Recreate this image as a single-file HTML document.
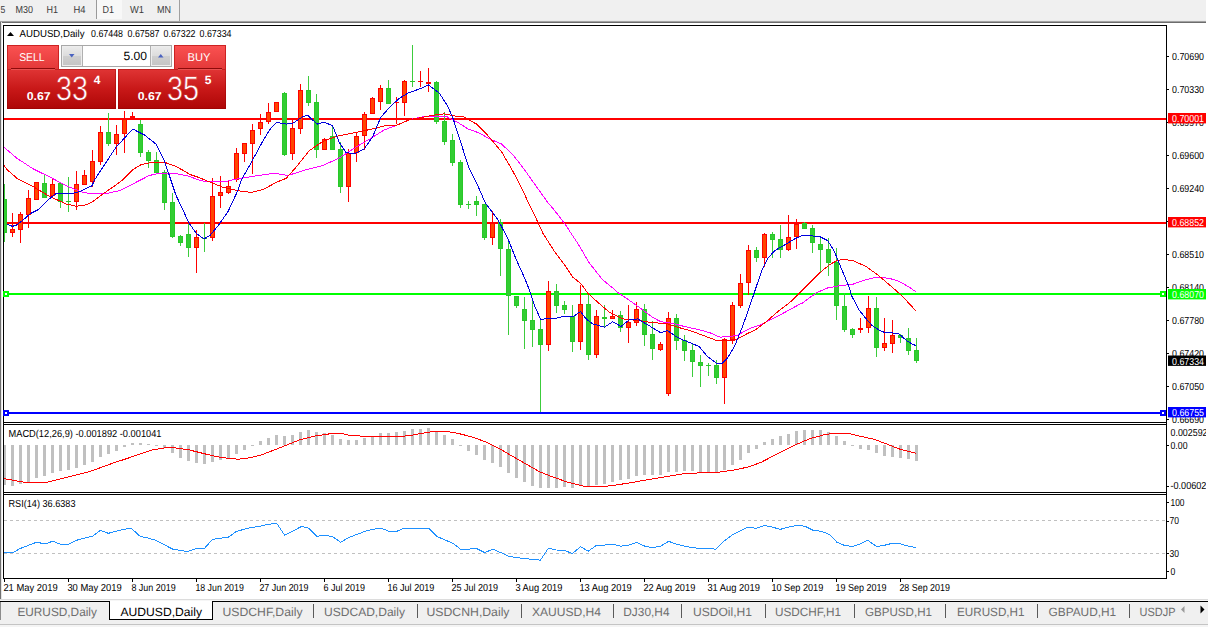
<!DOCTYPE html>
<html><head><meta charset="utf-8"><title>AUDUSD,Daily</title>
<style>html,body{margin:0;padding:0;background:#fff;}body{width:1208px;height:627px;overflow:hidden;font-family:"Liberation Sans",sans-serif;}svg{display:block;}</style></head>
<body>
<svg width="1208" height="627" viewBox="0 0 1208 627" text-rendering="geometricPrecision" font-family="'Liberation Sans', sans-serif">
<defs>
<linearGradient id="gp" gradientUnits="userSpaceOnUse" x1="0" y1="69" x2="0" y2="109"><stop offset="0" stop-color="#e03535"/><stop offset="0.5" stop-color="#c81818"/><stop offset="1" stop-color="#ad0606"/></linearGradient>
<linearGradient id="gb" x1="0" y1="0" x2="0" y2="1"><stop offset="0" stop-color="#fb5252"/><stop offset="1" stop-color="#e23838"/></linearGradient>
<linearGradient id="gs" x1="0" y1="0" x2="0" y2="1"><stop offset="0" stop-color="#ececec"/><stop offset="0.5" stop-color="#dcdcdc"/><stop offset="0.5" stop-color="#cfcfcf"/><stop offset="1" stop-color="#c4c4c4"/></linearGradient>
<linearGradient id="gt" x1="0" y1="0" x2="0" y2="1"><stop offset="0" stop-color="#d8d8d8"/><stop offset="0.4" stop-color="#8a8a8a"/><stop offset="1" stop-color="#6a6a6a"/></linearGradient>
<clipPath id="cm"><rect x="4" y="26" width="1162" height="396"/></clipPath>
<clipPath id="cd"><rect x="4" y="425" width="1162" height="67"/></clipPath>
<clipPath id="cr"><rect x="4" y="495" width="1162" height="83"/></clipPath>
<clipPath id="ca"><rect x="1167" y="20" width="39" height="580"/></clipPath>
</defs>
<g shape-rendering="crispEdges">
<rect x="0" y="0" width="1208" height="627" fill="#ffffff"/>
<rect x="0" y="0" width="1206" height="21" fill="#f0f0f0"/>
<rect x="0" y="20" width="1206" height="1" fill="#ebebeb"/>
<rect x="0" y="21" width="1206" height="1" fill="#a2a2a2"/>
<rect x="0" y="22" width="1206" height="1" fill="#6c6c6c"/>
<rect x="0" y="22" width="1" height="577" fill="#707070"/>
<rect x="1" y="22" width="1" height="577" fill="#e4e4e4"/>
<rect x="97" y="0" width="25" height="19" fill="#f8f8f8"/>
<rect x="96" y="0" width="1" height="19" fill="#9a9a9a"/>
<rect x="179" y="0" width="1" height="21" fill="#a0a0a0"/>
<rect x="0" y="599" width="1208" height="28" fill="#f0f0f0"/>
<rect x="0" y="599" width="1208" height="1" fill="#dcdcdc"/>
<rect x="0" y="600" width="1208" height="1" fill="#f6f6f6"/>
<rect x="0" y="601" width="1208" height="1" fill="#000000"/>
<rect x="110" y="601" width="102" height="19" fill="#ffffff"/>
<rect x="109" y="601" width="1" height="19" fill="#000000"/>
<rect x="212" y="601" width="1" height="19" fill="#000000"/>
<rect x="109" y="619" width="104" height="1" fill="#000000"/>
<rect x="0" y="602" width="1" height="18" fill="#8c8c8c"/>
<rect x="0" y="624" width="1208" height="1" fill="#c4c4c4"/>
<rect x="0" y="625" width="1208" height="2" fill="#f4f4f4"/>
<rect x="3" y="25" width="1164" height="1" fill="#000"/>
<rect x="3" y="25" width="1" height="554" fill="#000"/>
<rect x="1166" y="25" width="1" height="554" fill="#000"/>
<rect x="3" y="422" width="1164" height="1" fill="#000"/>
<rect x="3" y="424" width="1164" height="1" fill="#000"/>
<rect x="3" y="492" width="1164" height="1" fill="#000"/>
<rect x="3" y="494" width="1164" height="1" fill="#000"/>
<rect x="3" y="578" width="1164" height="1" fill="#000"/>
<rect x="4" y="423" width="1162" height="1" fill="#fff"/>
<rect x="4" y="493" width="1162" height="1" fill="#fff"/>
<rect x="4" y="579" width="1" height="3" fill="#000"/>
<rect x="68" y="579" width="1" height="3" fill="#000"/>
<rect x="132" y="579" width="1" height="3" fill="#000"/>
<rect x="196" y="579" width="1" height="3" fill="#000"/>
<rect x="260" y="579" width="1" height="3" fill="#000"/>
<rect x="324" y="579" width="1" height="3" fill="#000"/>
<rect x="388" y="579" width="1" height="3" fill="#000"/>
<rect x="452" y="579" width="1" height="3" fill="#000"/>
<rect x="516" y="579" width="1" height="3" fill="#000"/>
<rect x="580" y="579" width="1" height="3" fill="#000"/>
<rect x="644" y="579" width="1" height="3" fill="#000"/>
<rect x="708" y="579" width="1" height="3" fill="#000"/>
<rect x="772" y="579" width="1" height="3" fill="#000"/>
<rect x="836" y="579" width="1" height="3" fill="#000"/>
<rect x="900" y="579" width="1" height="3" fill="#000"/>
<rect x="1167" y="56" width="2" height="1" fill="#000"/>
<rect x="1167" y="89" width="2" height="1" fill="#000"/>
<rect x="1167" y="122" width="2" height="1" fill="#000"/>
<rect x="1167" y="155" width="2" height="1" fill="#000"/>
<rect x="1167" y="188" width="2" height="1" fill="#000"/>
<rect x="1167" y="221" width="2" height="1" fill="#000"/>
<rect x="1167" y="254" width="2" height="1" fill="#000"/>
<rect x="1167" y="287" width="2" height="1" fill="#000"/>
<rect x="1167" y="320" width="2" height="1" fill="#000"/>
<rect x="1167" y="353" width="2" height="1" fill="#000"/>
<rect x="1167" y="386" width="2" height="1" fill="#000"/>
<rect x="1167" y="419" width="2" height="1" fill="#000"/>
<rect x="1167" y="445" width="2" height="1" fill="#000"/>
<rect x="1167" y="486" width="2" height="1" fill="#000"/>
<rect x="1167" y="502" width="2" height="1" fill="#000"/>
<rect x="1167" y="521" width="2" height="1" fill="#000"/>
<rect x="1167" y="553" width="2" height="1" fill="#000"/>
<rect x="1167" y="571" width="2" height="1" fill="#000"/>
</g>
<g shape-rendering="crispEdges" clip-path="url(#cm)">
<rect x="4" y="118" width="1162" height="2" fill="#ff0000"/>
<rect x="4" y="222" width="1162" height="2" fill="#ff0000"/>
<rect x="4" y="293" width="1162" height="2" fill="#00ff00"/>
<rect x="4" y="412" width="1162" height="2" fill="#0000ff"/>
<rect x="4" y="184" width="1" height="58" fill="#3ccc3c"/>
<rect x="2" y="199" width="5" height="34" fill="#28c828"/>
<rect x="3" y="200" width="3" height="32" fill="#32cd32"/>
<rect x="12" y="213" width="1" height="24" fill="#ff0000"/>
<rect x="10" y="229" width="5" height="4" fill="#ff0000"/>
<rect x="11" y="230" width="3" height="2" fill="#ff4500"/>
<rect x="20" y="212" width="1" height="31" fill="#ff0000"/>
<rect x="18" y="214" width="5" height="16" fill="#ff0000"/>
<rect x="19" y="215" width="3" height="14" fill="#ff4500"/>
<rect x="28" y="190" width="1" height="38" fill="#ff0000"/>
<rect x="26" y="198" width="5" height="17" fill="#ff0000"/>
<rect x="27" y="199" width="3" height="15" fill="#ff4500"/>
<rect x="36" y="182" width="1" height="18" fill="#ff0000"/>
<rect x="34" y="182" width="5" height="18" fill="#ff0000"/>
<rect x="35" y="183" width="3" height="16" fill="#ff4500"/>
<rect x="44" y="175" width="1" height="23" fill="#3ccc3c"/>
<rect x="42" y="183" width="5" height="15" fill="#28c828"/>
<rect x="43" y="184" width="3" height="13" fill="#32cd32"/>
<rect x="52" y="178" width="1" height="20" fill="#ff0000"/>
<rect x="50" y="184" width="5" height="12" fill="#ff0000"/>
<rect x="51" y="185" width="3" height="10" fill="#ff4500"/>
<rect x="60" y="182" width="1" height="26" fill="#3ccc3c"/>
<rect x="58" y="183" width="5" height="19" fill="#28c828"/>
<rect x="59" y="184" width="3" height="17" fill="#32cd32"/>
<rect x="68" y="177" width="1" height="35" fill="#3ccc3c"/>
<rect x="66" y="201" width="5" height="1" fill="#28c828"/>
<rect x="76" y="171" width="1" height="39" fill="#ff0000"/>
<rect x="74" y="184" width="5" height="18" fill="#ff0000"/>
<rect x="75" y="185" width="3" height="16" fill="#ff4500"/>
<rect x="84" y="170" width="1" height="15" fill="#ff0000"/>
<rect x="82" y="175" width="5" height="10" fill="#ff0000"/>
<rect x="83" y="176" width="3" height="8" fill="#ff4500"/>
<rect x="92" y="150" width="1" height="37" fill="#ff0000"/>
<rect x="90" y="161" width="5" height="21" fill="#ff0000"/>
<rect x="91" y="162" width="3" height="19" fill="#ff4500"/>
<rect x="100" y="126" width="1" height="39" fill="#ff0000"/>
<rect x="98" y="132" width="5" height="30" fill="#ff0000"/>
<rect x="99" y="133" width="3" height="28" fill="#ff4500"/>
<rect x="108" y="113" width="1" height="33" fill="#3ccc3c"/>
<rect x="106" y="132" width="5" height="12" fill="#28c828"/>
<rect x="107" y="133" width="3" height="10" fill="#32cd32"/>
<rect x="116" y="125" width="1" height="30" fill="#ff0000"/>
<rect x="114" y="134" width="5" height="10" fill="#ff0000"/>
<rect x="115" y="135" width="3" height="8" fill="#ff4500"/>
<rect x="124" y="111" width="1" height="42" fill="#ff0000"/>
<rect x="122" y="119" width="5" height="15" fill="#ff0000"/>
<rect x="123" y="120" width="3" height="13" fill="#ff4500"/>
<rect x="132" y="112" width="1" height="6" fill="#ff0000"/>
<rect x="130" y="116" width="5" height="2" fill="#ff0000"/>
<rect x="140" y="120" width="1" height="37" fill="#3ccc3c"/>
<rect x="138" y="124" width="5" height="29" fill="#28c828"/>
<rect x="139" y="125" width="3" height="27" fill="#32cd32"/>
<rect x="148" y="150" width="1" height="18" fill="#3ccc3c"/>
<rect x="146" y="152" width="5" height="9" fill="#28c828"/>
<rect x="147" y="153" width="3" height="7" fill="#32cd32"/>
<rect x="156" y="152" width="1" height="21" fill="#3ccc3c"/>
<rect x="154" y="160" width="5" height="13" fill="#28c828"/>
<rect x="155" y="161" width="3" height="11" fill="#32cd32"/>
<rect x="164" y="170" width="1" height="40" fill="#3ccc3c"/>
<rect x="162" y="172" width="5" height="31" fill="#28c828"/>
<rect x="163" y="173" width="3" height="29" fill="#32cd32"/>
<rect x="172" y="193" width="1" height="45" fill="#3ccc3c"/>
<rect x="170" y="202" width="5" height="35" fill="#28c828"/>
<rect x="171" y="203" width="3" height="33" fill="#32cd32"/>
<rect x="180" y="235" width="1" height="11" fill="#3ccc3c"/>
<rect x="178" y="236" width="5" height="7" fill="#28c828"/>
<rect x="179" y="237" width="3" height="5" fill="#32cd32"/>
<rect x="188" y="224" width="1" height="33" fill="#3ccc3c"/>
<rect x="186" y="234" width="5" height="14" fill="#28c828"/>
<rect x="187" y="235" width="3" height="12" fill="#32cd32"/>
<rect x="196" y="230" width="1" height="43" fill="#ff0000"/>
<rect x="194" y="237" width="5" height="11" fill="#ff0000"/>
<rect x="195" y="238" width="3" height="9" fill="#ff4500"/>
<rect x="204" y="223" width="1" height="29" fill="#3ccc3c"/>
<rect x="202" y="238" width="5" height="1" fill="#28c828"/>
<rect x="212" y="178" width="1" height="63" fill="#ff0000"/>
<rect x="210" y="196" width="5" height="42" fill="#ff0000"/>
<rect x="211" y="197" width="3" height="40" fill="#ff4500"/>
<rect x="220" y="176" width="1" height="32" fill="#ff0000"/>
<rect x="218" y="192" width="5" height="4" fill="#ff0000"/>
<rect x="219" y="193" width="3" height="2" fill="#ff4500"/>
<rect x="228" y="180" width="1" height="14" fill="#ff0000"/>
<rect x="226" y="186" width="5" height="7" fill="#ff0000"/>
<rect x="227" y="187" width="3" height="5" fill="#ff4500"/>
<rect x="236" y="148" width="1" height="34" fill="#ff0000"/>
<rect x="234" y="153" width="5" height="27" fill="#ff0000"/>
<rect x="235" y="154" width="3" height="25" fill="#ff4500"/>
<rect x="244" y="143" width="1" height="19" fill="#ff0000"/>
<rect x="242" y="143" width="5" height="11" fill="#ff0000"/>
<rect x="243" y="144" width="3" height="9" fill="#ff4500"/>
<rect x="252" y="124" width="1" height="50" fill="#ff0000"/>
<rect x="250" y="130" width="5" height="14" fill="#ff0000"/>
<rect x="251" y="131" width="3" height="12" fill="#ff4500"/>
<rect x="260" y="114" width="1" height="21" fill="#ff0000"/>
<rect x="258" y="122" width="5" height="7" fill="#ff0000"/>
<rect x="259" y="123" width="3" height="5" fill="#ff4500"/>
<rect x="268" y="103" width="1" height="21" fill="#ff0000"/>
<rect x="266" y="112" width="5" height="10" fill="#ff0000"/>
<rect x="267" y="113" width="3" height="8" fill="#ff4500"/>
<rect x="276" y="102" width="1" height="10" fill="#ff0000"/>
<rect x="274" y="102" width="5" height="10" fill="#ff0000"/>
<rect x="275" y="103" width="3" height="8" fill="#ff4500"/>
<rect x="284" y="92" width="1" height="64" fill="#3ccc3c"/>
<rect x="282" y="93" width="5" height="62" fill="#28c828"/>
<rect x="283" y="94" width="3" height="60" fill="#32cd32"/>
<rect x="292" y="120" width="1" height="40" fill="#ff0000"/>
<rect x="290" y="128" width="5" height="26" fill="#ff0000"/>
<rect x="291" y="129" width="3" height="24" fill="#ff4500"/>
<rect x="300" y="84" width="1" height="50" fill="#ff0000"/>
<rect x="298" y="90" width="5" height="39" fill="#ff0000"/>
<rect x="299" y="91" width="3" height="37" fill="#ff4500"/>
<rect x="308" y="76" width="1" height="30" fill="#3ccc3c"/>
<rect x="306" y="90" width="5" height="13" fill="#28c828"/>
<rect x="307" y="91" width="3" height="11" fill="#32cd32"/>
<rect x="316" y="94" width="1" height="64" fill="#3ccc3c"/>
<rect x="314" y="102" width="5" height="48" fill="#28c828"/>
<rect x="315" y="103" width="3" height="46" fill="#32cd32"/>
<rect x="324" y="138" width="1" height="12" fill="#ff0000"/>
<rect x="322" y="139" width="5" height="11" fill="#ff0000"/>
<rect x="323" y="140" width="3" height="9" fill="#ff4500"/>
<rect x="332" y="125" width="1" height="25" fill="#3ccc3c"/>
<rect x="330" y="136" width="5" height="14" fill="#28c828"/>
<rect x="331" y="137" width="3" height="12" fill="#32cd32"/>
<rect x="340" y="142" width="1" height="51" fill="#3ccc3c"/>
<rect x="338" y="149" width="5" height="38" fill="#28c828"/>
<rect x="339" y="150" width="3" height="36" fill="#32cd32"/>
<rect x="348" y="149" width="1" height="53" fill="#ff0000"/>
<rect x="346" y="153" width="5" height="34" fill="#ff0000"/>
<rect x="347" y="154" width="3" height="32" fill="#ff4500"/>
<rect x="356" y="132" width="1" height="30" fill="#ff0000"/>
<rect x="354" y="136" width="5" height="17" fill="#ff0000"/>
<rect x="355" y="137" width="3" height="15" fill="#ff4500"/>
<rect x="364" y="112" width="1" height="38" fill="#ff0000"/>
<rect x="362" y="114" width="5" height="22" fill="#ff0000"/>
<rect x="363" y="115" width="3" height="20" fill="#ff4500"/>
<rect x="372" y="97" width="1" height="17" fill="#ff0000"/>
<rect x="370" y="98" width="5" height="16" fill="#ff0000"/>
<rect x="371" y="99" width="3" height="14" fill="#ff4500"/>
<rect x="380" y="85" width="1" height="25" fill="#ff0000"/>
<rect x="378" y="88" width="5" height="14" fill="#ff0000"/>
<rect x="379" y="89" width="3" height="12" fill="#ff4500"/>
<rect x="388" y="80" width="1" height="24" fill="#3ccc3c"/>
<rect x="386" y="88" width="5" height="16" fill="#28c828"/>
<rect x="387" y="89" width="3" height="14" fill="#32cd32"/>
<rect x="396" y="97" width="1" height="27" fill="#ff0000"/>
<rect x="394" y="102" width="5" height="1" fill="#ff0000"/>
<rect x="404" y="80" width="1" height="36" fill="#ff0000"/>
<rect x="402" y="81" width="5" height="22" fill="#ff0000"/>
<rect x="403" y="82" width="3" height="20" fill="#ff4500"/>
<rect x="412" y="45" width="1" height="42" fill="#3ccc3c"/>
<rect x="410" y="81" width="5" height="1" fill="#28c828"/>
<rect x="420" y="71" width="1" height="16" fill="#ff0000"/>
<rect x="418" y="81" width="5" height="1" fill="#ff0000"/>
<rect x="428" y="68" width="1" height="24" fill="#ff0000"/>
<rect x="426" y="82" width="5" height="2" fill="#ff0000"/>
<rect x="436" y="81" width="1" height="43" fill="#3ccc3c"/>
<rect x="434" y="82" width="5" height="40" fill="#28c828"/>
<rect x="435" y="83" width="3" height="38" fill="#32cd32"/>
<rect x="444" y="112" width="1" height="33" fill="#3ccc3c"/>
<rect x="442" y="121" width="5" height="21" fill="#28c828"/>
<rect x="443" y="122" width="3" height="19" fill="#32cd32"/>
<rect x="452" y="134" width="1" height="32" fill="#3ccc3c"/>
<rect x="450" y="140" width="5" height="23" fill="#28c828"/>
<rect x="451" y="141" width="3" height="21" fill="#32cd32"/>
<rect x="460" y="160" width="1" height="48" fill="#3ccc3c"/>
<rect x="458" y="162" width="5" height="43" fill="#28c828"/>
<rect x="459" y="163" width="3" height="41" fill="#32cd32"/>
<rect x="468" y="201" width="1" height="8" fill="#3ccc3c"/>
<rect x="466" y="204" width="5" height="1" fill="#28c828"/>
<rect x="476" y="196" width="1" height="20" fill="#3ccc3c"/>
<rect x="474" y="201" width="5" height="4" fill="#28c828"/>
<rect x="475" y="202" width="3" height="2" fill="#32cd32"/>
<rect x="484" y="204" width="1" height="36" fill="#3ccc3c"/>
<rect x="482" y="204" width="5" height="34" fill="#28c828"/>
<rect x="483" y="205" width="3" height="32" fill="#32cd32"/>
<rect x="492" y="211" width="1" height="34" fill="#ff0000"/>
<rect x="490" y="223" width="5" height="15" fill="#ff0000"/>
<rect x="491" y="224" width="3" height="13" fill="#ff4500"/>
<rect x="500" y="219" width="1" height="57" fill="#3ccc3c"/>
<rect x="498" y="222" width="5" height="27" fill="#28c828"/>
<rect x="499" y="223" width="3" height="25" fill="#32cd32"/>
<rect x="508" y="239" width="1" height="96" fill="#3ccc3c"/>
<rect x="506" y="249" width="5" height="47" fill="#28c828"/>
<rect x="507" y="250" width="3" height="45" fill="#32cd32"/>
<rect x="516" y="296" width="1" height="12" fill="#3ccc3c"/>
<rect x="514" y="296" width="5" height="10" fill="#28c828"/>
<rect x="515" y="297" width="3" height="8" fill="#32cd32"/>
<rect x="524" y="297" width="1" height="52" fill="#3ccc3c"/>
<rect x="522" y="309" width="5" height="12" fill="#28c828"/>
<rect x="523" y="310" width="3" height="10" fill="#32cd32"/>
<rect x="532" y="300" width="1" height="47" fill="#3ccc3c"/>
<rect x="530" y="320" width="5" height="10" fill="#28c828"/>
<rect x="531" y="321" width="3" height="8" fill="#32cd32"/>
<rect x="540" y="319" width="1" height="93" fill="#3ccc3c"/>
<rect x="538" y="329" width="5" height="16" fill="#28c828"/>
<rect x="539" y="330" width="3" height="14" fill="#32cd32"/>
<rect x="548" y="281" width="1" height="70" fill="#ff0000"/>
<rect x="546" y="291" width="5" height="54" fill="#ff0000"/>
<rect x="547" y="292" width="3" height="52" fill="#ff4500"/>
<rect x="556" y="284" width="1" height="29" fill="#3ccc3c"/>
<rect x="554" y="291" width="5" height="15" fill="#28c828"/>
<rect x="555" y="292" width="3" height="13" fill="#32cd32"/>
<rect x="564" y="301" width="1" height="13" fill="#3ccc3c"/>
<rect x="562" y="305" width="5" height="5" fill="#28c828"/>
<rect x="563" y="306" width="3" height="3" fill="#32cd32"/>
<rect x="572" y="305" width="1" height="47" fill="#3ccc3c"/>
<rect x="570" y="316" width="5" height="26" fill="#28c828"/>
<rect x="571" y="317" width="3" height="24" fill="#32cd32"/>
<rect x="580" y="285" width="1" height="65" fill="#ff0000"/>
<rect x="578" y="304" width="5" height="38" fill="#ff0000"/>
<rect x="579" y="305" width="3" height="36" fill="#ff4500"/>
<rect x="588" y="295" width="1" height="65" fill="#3ccc3c"/>
<rect x="586" y="304" width="5" height="51" fill="#28c828"/>
<rect x="587" y="305" width="3" height="49" fill="#32cd32"/>
<rect x="596" y="310" width="1" height="48" fill="#ff0000"/>
<rect x="594" y="316" width="5" height="39" fill="#ff0000"/>
<rect x="595" y="317" width="3" height="37" fill="#ff4500"/>
<rect x="604" y="305" width="1" height="23" fill="#3ccc3c"/>
<rect x="602" y="317" width="5" height="2" fill="#28c828"/>
<rect x="612" y="310" width="1" height="9" fill="#ff0000"/>
<rect x="610" y="316" width="5" height="3" fill="#ff0000"/>
<rect x="611" y="317" width="3" height="1" fill="#ff4500"/>
<rect x="620" y="311" width="1" height="21" fill="#3ccc3c"/>
<rect x="618" y="315" width="5" height="13" fill="#28c828"/>
<rect x="619" y="316" width="3" height="11" fill="#32cd32"/>
<rect x="628" y="305" width="1" height="38" fill="#ff0000"/>
<rect x="626" y="322" width="5" height="6" fill="#ff0000"/>
<rect x="627" y="323" width="3" height="4" fill="#ff4500"/>
<rect x="636" y="302" width="1" height="24" fill="#ff0000"/>
<rect x="634" y="309" width="5" height="14" fill="#ff0000"/>
<rect x="635" y="310" width="3" height="12" fill="#ff4500"/>
<rect x="644" y="304" width="1" height="42" fill="#3ccc3c"/>
<rect x="642" y="309" width="5" height="26" fill="#28c828"/>
<rect x="643" y="310" width="3" height="24" fill="#32cd32"/>
<rect x="652" y="321" width="1" height="39" fill="#3ccc3c"/>
<rect x="650" y="334" width="5" height="15" fill="#28c828"/>
<rect x="651" y="335" width="3" height="13" fill="#32cd32"/>
<rect x="660" y="342" width="1" height="9" fill="#ff0000"/>
<rect x="658" y="344" width="5" height="6" fill="#ff0000"/>
<rect x="659" y="345" width="3" height="4" fill="#ff4500"/>
<rect x="668" y="312" width="1" height="84" fill="#ff0000"/>
<rect x="666" y="318" width="5" height="76" fill="#ff0000"/>
<rect x="667" y="319" width="3" height="74" fill="#ff4500"/>
<rect x="676" y="314" width="1" height="36" fill="#3ccc3c"/>
<rect x="674" y="318" width="5" height="23" fill="#28c828"/>
<rect x="675" y="319" width="3" height="21" fill="#32cd32"/>
<rect x="684" y="335" width="1" height="26" fill="#3ccc3c"/>
<rect x="682" y="340" width="5" height="11" fill="#28c828"/>
<rect x="683" y="341" width="3" height="9" fill="#32cd32"/>
<rect x="692" y="344" width="1" height="33" fill="#3ccc3c"/>
<rect x="690" y="350" width="5" height="12" fill="#28c828"/>
<rect x="691" y="351" width="3" height="10" fill="#32cd32"/>
<rect x="700" y="355" width="1" height="32" fill="#3ccc3c"/>
<rect x="698" y="362" width="5" height="4" fill="#28c828"/>
<rect x="699" y="363" width="3" height="2" fill="#32cd32"/>
<rect x="708" y="363" width="1" height="13" fill="#3ccc3c"/>
<rect x="706" y="365" width="5" height="1" fill="#28c828"/>
<rect x="716" y="360" width="1" height="24" fill="#3ccc3c"/>
<rect x="714" y="365" width="5" height="13" fill="#28c828"/>
<rect x="715" y="366" width="3" height="11" fill="#32cd32"/>
<rect x="724" y="338" width="1" height="66" fill="#ff0000"/>
<rect x="722" y="339" width="5" height="39" fill="#ff0000"/>
<rect x="723" y="340" width="3" height="37" fill="#ff4500"/>
<rect x="732" y="302" width="1" height="42" fill="#ff0000"/>
<rect x="730" y="305" width="5" height="36" fill="#ff0000"/>
<rect x="731" y="306" width="3" height="34" fill="#ff4500"/>
<rect x="740" y="274" width="1" height="34" fill="#ff0000"/>
<rect x="738" y="283" width="5" height="23" fill="#ff0000"/>
<rect x="739" y="284" width="3" height="21" fill="#ff4500"/>
<rect x="748" y="245" width="1" height="50" fill="#ff0000"/>
<rect x="746" y="250" width="5" height="33" fill="#ff0000"/>
<rect x="747" y="251" width="3" height="31" fill="#ff4500"/>
<rect x="756" y="247" width="1" height="15" fill="#3ccc3c"/>
<rect x="754" y="250" width="5" height="8" fill="#28c828"/>
<rect x="755" y="251" width="3" height="6" fill="#32cd32"/>
<rect x="764" y="233" width="1" height="34" fill="#ff0000"/>
<rect x="762" y="234" width="5" height="24" fill="#ff0000"/>
<rect x="763" y="235" width="3" height="22" fill="#ff4500"/>
<rect x="772" y="232" width="1" height="26" fill="#3ccc3c"/>
<rect x="770" y="234" width="5" height="6" fill="#28c828"/>
<rect x="771" y="235" width="3" height="4" fill="#32cd32"/>
<rect x="780" y="225" width="1" height="33" fill="#3ccc3c"/>
<rect x="778" y="239" width="5" height="11" fill="#28c828"/>
<rect x="779" y="240" width="3" height="9" fill="#32cd32"/>
<rect x="788" y="215" width="1" height="36" fill="#ff0000"/>
<rect x="786" y="237" width="5" height="13" fill="#ff0000"/>
<rect x="787" y="238" width="3" height="11" fill="#ff4500"/>
<rect x="796" y="219" width="1" height="30" fill="#ff0000"/>
<rect x="794" y="224" width="5" height="13" fill="#ff0000"/>
<rect x="795" y="225" width="3" height="11" fill="#ff4500"/>
<rect x="804" y="222" width="1" height="7" fill="#3ccc3c"/>
<rect x="802" y="223" width="5" height="6" fill="#28c828"/>
<rect x="803" y="224" width="3" height="4" fill="#32cd32"/>
<rect x="812" y="225" width="1" height="28" fill="#3ccc3c"/>
<rect x="810" y="228" width="5" height="15" fill="#28c828"/>
<rect x="811" y="229" width="3" height="13" fill="#32cd32"/>
<rect x="820" y="237" width="1" height="36" fill="#3ccc3c"/>
<rect x="818" y="244" width="5" height="6" fill="#28c828"/>
<rect x="819" y="245" width="3" height="4" fill="#32cd32"/>
<rect x="828" y="238" width="1" height="38" fill="#3ccc3c"/>
<rect x="826" y="249" width="5" height="14" fill="#28c828"/>
<rect x="827" y="250" width="3" height="12" fill="#32cd32"/>
<rect x="836" y="248" width="1" height="72" fill="#3ccc3c"/>
<rect x="834" y="262" width="5" height="44" fill="#28c828"/>
<rect x="835" y="263" width="3" height="42" fill="#32cd32"/>
<rect x="844" y="293" width="1" height="39" fill="#3ccc3c"/>
<rect x="842" y="306" width="5" height="24" fill="#28c828"/>
<rect x="843" y="307" width="3" height="22" fill="#32cd32"/>
<rect x="852" y="328" width="1" height="10" fill="#3ccc3c"/>
<rect x="850" y="329" width="5" height="6" fill="#28c828"/>
<rect x="851" y="330" width="3" height="4" fill="#32cd32"/>
<rect x="860" y="318" width="1" height="15" fill="#ff0000"/>
<rect x="858" y="328" width="5" height="2" fill="#ff0000"/>
<rect x="868" y="296" width="1" height="37" fill="#ff0000"/>
<rect x="866" y="308" width="5" height="20" fill="#ff0000"/>
<rect x="867" y="309" width="3" height="18" fill="#ff4500"/>
<rect x="876" y="297" width="1" height="60" fill="#3ccc3c"/>
<rect x="874" y="308" width="5" height="40" fill="#28c828"/>
<rect x="875" y="309" width="3" height="38" fill="#32cd32"/>
<rect x="884" y="318" width="1" height="33" fill="#ff0000"/>
<rect x="882" y="343" width="5" height="5" fill="#ff0000"/>
<rect x="883" y="344" width="3" height="3" fill="#ff4500"/>
<rect x="892" y="320" width="1" height="33" fill="#ff0000"/>
<rect x="890" y="335" width="5" height="9" fill="#ff0000"/>
<rect x="891" y="336" width="3" height="7" fill="#ff4500"/>
<rect x="900" y="334" width="1" height="9" fill="#3ccc3c"/>
<rect x="898" y="335" width="5" height="3" fill="#28c828"/>
<rect x="899" y="336" width="3" height="1" fill="#32cd32"/>
<rect x="908" y="328" width="1" height="27" fill="#3ccc3c"/>
<rect x="906" y="338" width="5" height="13" fill="#28c828"/>
<rect x="907" y="339" width="3" height="11" fill="#32cd32"/>
<rect x="916" y="338" width="1" height="25" fill="#3ccc3c"/>
<rect x="914" y="350" width="5" height="11" fill="#28c828"/>
<rect x="915" y="351" width="3" height="9" fill="#32cd32"/>
</g>
<g fill="none" stroke-width="1" stroke-linejoin="round" shape-rendering="crispEdges" clip-path="url(#cm)">
<polyline stroke="#ff00ff" points="4,147.3 16.6,158 33.2,168.9 49.8,177 66.3,185.8 82.9,192.4 94.5,194 107.8,193.2 119.4,190.7 132.7,184 149.3,175.5 159.2,173.3 174.1,173.3 187.4,175.8 199,180 206.6,181.9 223.2,181.9 239.8,178.5 256.3,175.8 274.6,173.3 287.8,175.5 306.1,169.7 322.7,165.6 339.2,158 355.8,147.3 372.4,137.4 384,130 396.1,125.5 409.4,119.7 422.7,116.8 439.3,116.4 446.6,116.6 456.5,121.6 468.1,129 479.8,133.2 489.7,139 501.3,143.9 512.9,154.7 524.5,169.7 536.1,186.2 548.6,203.6 552.8,208.2 564.4,223.2 577.6,243.1 589.3,263 602.5,279.6 612.5,287.8 617.7,292.4 631,301.5 642.6,309.8 652.5,317.3 660.8,321.7 672.4,323.4 680.7,325.6 690,327.7 700,330 710,332.8 719.9,337.1 729.9,336.6 738.1,335 748.1,329.2 759.7,325 769.7,320 782.9,313.4 799.5,304.3 802.9,302.8 816.2,292.9 827.8,287.9 839.4,285.8 852.7,284.3 865.9,279.6 877.5,277.1 889.2,278.3 899.1,281.3 909.1,287.1 915.8,291.7"/>
<polyline stroke="#ff0000" points="4,165.5 7.5,170 16.6,178 19.9,180 33.2,186.6 49.8,196.5 66.3,204 76.3,206.2 86.2,204.8 92.9,201.5 102.8,194 116,184.9 122.7,180 132.7,169.7 141,164.7 149.3,163 164.2,162.2 175.8,166.4 182.4,170 190,174.5 199,177.5 206.6,180.8 223.2,187.4 238.1,190.7 251.4,192.4 263,189.6 276.2,182.4 286.2,178.3 296.1,167.2 309.4,150.6 322.7,141.5 336,136.5 355.8,132.4 372.4,129 384,126 396.1,125.5 409.4,119.7 422.7,117.3 432.6,115.3 444.2,113.9 457.5,116.4 463.2,116.6 476.4,124 488,135.7 501.3,151.4 512.9,171.3 522.9,190.4 528.7,203.6 532.9,211.6 542.8,233.1 554.4,251.4 564.4,264.6 572.7,277.1 581,283.7 587.8,293.2 597.8,302.3 609.4,312.3 622.7,318.9 639.3,320.6 652.5,322.7 665.8,323.4 677.4,327.2 690,330.5 704.1,335.8 717.4,340.8 724.9,340.8 736.5,339.4 746.4,334.1 756.4,329.2 766.3,321.7 779.6,310.1 789.6,302.6 793,299.5 806.2,286.3 819.5,273 829.5,264.7 836.1,261.1 842.7,259.2 852.7,260.6 865.9,266.4 877.5,274.7 889.2,284.6 902.4,296.2 916,311"/>
<polyline stroke="#0000dd" points="6.6,223.9 12.4,226.4 16.6,225 22.4,220.6 30.7,213.4 38,209.8 48,199.9 56.4,193.2 73,193.2 79.6,191.5 92,185.8 94.5,180 101,170 116,147.3 132.7,129 137.6,131.5 144.3,134.9 155.9,144 164.2,160.6 168.5,173 175.8,194.9 189,223 196.6,233.8 204,238.8 209.9,235.5 218.2,225.6 228.1,211.5 238.1,189.9 241.4,180 251.4,162.2 263,140.7 271.3,127.4 277,122.4 286.2,124.1 292.8,123.3 302.8,116.6 307.7,115.3 313.5,120.8 317.7,124.1 324.3,122.1 332.6,125.8 339.2,142.3 345.9,152.3 354.2,154 364.1,149 372.6,137 380.7,117.5 389.5,107.3 399.5,98.2 407.7,93.2 419.4,89 428.5,85 439.3,93.2 447.5,105.7 453.2,119 461.5,144.8 469,168 478,186.2 485.6,203.6 488.1,206.6 498,219.9 508,238.9 516.3,259.7 524.6,277.9 528.1,286.6 534.8,306.5 540.6,319.3 556.3,318.1 564.6,316.1 572.9,316.8 580.4,311.5 586.2,318.9 592.8,323.9 604.4,327.2 612.7,321.7 621,326.4 629.3,319.8 637.6,318.9 647.5,324.7 660.8,332.7 667.4,330.5 675.7,336.3 682.4,339.7 689.2,342.4 699.2,346.6 707.4,356.5 717.4,364 722.4,363.2 727.4,358.2 734.8,345.8 741.5,329.2 748.1,310.9 754.8,291.2 761.5,271.3 768.1,258.1 774.7,250.6 786.3,244 794.6,239 801.3,235.7 809.6,235.7 819.5,236.5 827.8,240.7 834.4,251.4 841.1,268 849.4,287.9 851.7,296 859.2,310.1 865.8,318.4 872.5,325.9 879.7,330.3 885,332.7 898.3,333.2 906.2,340.3 911.5,343.6 916.2,345.8"/>
</g>
<g shape-rendering="crispEdges"><rect x="3" y="291" width="6" height="6" fill="#00ff00"/><rect x="5" y="293" width="2" height="2" fill="#fff"/><rect x="1160" y="291" width="6" height="6" fill="#00ff00"/><rect x="1162" y="293" width="2" height="2" fill="#fff"/><rect x="3" y="410" width="6" height="6" fill="#0000ff"/><rect x="5" y="412" width="2" height="2" fill="#fff"/><rect x="1160" y="410" width="6" height="6" fill="#0000ff"/><rect x="1162" y="412" width="2" height="2" fill="#fff"/><rect x="1166" y="25" width="1" height="554" fill="#000"/></g>
<g shape-rendering="crispEdges" clip-path="url(#cd)">
<rect x="3" y="445" width="3" height="40" fill="#c0c0c0"/>
<rect x="11" y="445" width="3" height="41" fill="#c0c0c0"/>
<rect x="19" y="445" width="3" height="39" fill="#c0c0c0"/>
<rect x="27" y="445" width="3" height="37" fill="#c0c0c0"/>
<rect x="35" y="445" width="3" height="33" fill="#c0c0c0"/>
<rect x="43" y="445" width="3" height="31" fill="#c0c0c0"/>
<rect x="51" y="445" width="3" height="28" fill="#c0c0c0"/>
<rect x="59" y="445" width="3" height="26" fill="#c0c0c0"/>
<rect x="67" y="445" width="3" height="25" fill="#c0c0c0"/>
<rect x="75" y="445" width="3" height="23" fill="#c0c0c0"/>
<rect x="83" y="445" width="3" height="20" fill="#c0c0c0"/>
<rect x="91" y="445" width="3" height="17" fill="#c0c0c0"/>
<rect x="99" y="445" width="3" height="12" fill="#c0c0c0"/>
<rect x="107" y="445" width="3" height="9" fill="#c0c0c0"/>
<rect x="115" y="445" width="3" height="6" fill="#c0c0c0"/>
<rect x="123" y="445" width="3" height="2" fill="#c0c0c0"/>
<rect x="131" y="443" width="3" height="2" fill="#c0c0c0"/>
<rect x="139" y="443" width="3" height="2" fill="#c0c0c0"/>
<rect x="147" y="444" width="3" height="1" fill="#c0c0c0"/>
<rect x="155" y="445" width="3" height="1" fill="#c0c0c0"/>
<rect x="163" y="445" width="3" height="3" fill="#c0c0c0"/>
<rect x="171" y="445" width="3" height="8" fill="#c0c0c0"/>
<rect x="179" y="445" width="3" height="13" fill="#c0c0c0"/>
<rect x="187" y="445" width="3" height="16" fill="#c0c0c0"/>
<rect x="195" y="445" width="3" height="18" fill="#c0c0c0"/>
<rect x="203" y="445" width="3" height="19" fill="#c0c0c0"/>
<rect x="211" y="445" width="3" height="17" fill="#c0c0c0"/>
<rect x="219" y="445" width="3" height="15" fill="#c0c0c0"/>
<rect x="227" y="445" width="3" height="13" fill="#c0c0c0"/>
<rect x="235" y="445" width="3" height="9" fill="#c0c0c0"/>
<rect x="243" y="445" width="3" height="5" fill="#c0c0c0"/>
<rect x="251" y="445" width="3" height="1" fill="#c0c0c0"/>
<rect x="259" y="441" width="3" height="4" fill="#c0c0c0"/>
<rect x="267" y="438" width="3" height="7" fill="#c0c0c0"/>
<rect x="275" y="435" width="3" height="10" fill="#c0c0c0"/>
<rect x="283" y="436" width="3" height="9" fill="#c0c0c0"/>
<rect x="291" y="435" width="3" height="10" fill="#c0c0c0"/>
<rect x="299" y="432" width="3" height="13" fill="#c0c0c0"/>
<rect x="307" y="430" width="3" height="15" fill="#c0c0c0"/>
<rect x="315" y="432" width="3" height="13" fill="#c0c0c0"/>
<rect x="323" y="433" width="3" height="12" fill="#c0c0c0"/>
<rect x="331" y="435" width="3" height="10" fill="#c0c0c0"/>
<rect x="339" y="439" width="3" height="6" fill="#c0c0c0"/>
<rect x="347" y="440" width="3" height="5" fill="#c0c0c0"/>
<rect x="355" y="440" width="3" height="5" fill="#c0c0c0"/>
<rect x="363" y="438" width="3" height="7" fill="#c0c0c0"/>
<rect x="371" y="437" width="3" height="8" fill="#c0c0c0"/>
<rect x="379" y="433" width="3" height="12" fill="#c0c0c0"/>
<rect x="387" y="433" width="3" height="12" fill="#c0c0c0"/>
<rect x="395" y="432" width="3" height="13" fill="#c0c0c0"/>
<rect x="403" y="431" width="3" height="14" fill="#c0c0c0"/>
<rect x="411" y="429" width="3" height="16" fill="#c0c0c0"/>
<rect x="419" y="429" width="3" height="16" fill="#c0c0c0"/>
<rect x="427" y="428" width="3" height="17" fill="#c0c0c0"/>
<rect x="435" y="431" width="3" height="14" fill="#c0c0c0"/>
<rect x="443" y="435" width="3" height="10" fill="#c0c0c0"/>
<rect x="451" y="439" width="3" height="6" fill="#c0c0c0"/>
<rect x="459" y="445" width="3" height="1" fill="#c0c0c0"/>
<rect x="467" y="445" width="3" height="6" fill="#c0c0c0"/>
<rect x="475" y="445" width="3" height="10" fill="#c0c0c0"/>
<rect x="483" y="445" width="3" height="15" fill="#c0c0c0"/>
<rect x="491" y="445" width="3" height="18" fill="#c0c0c0"/>
<rect x="499" y="445" width="3" height="22" fill="#c0c0c0"/>
<rect x="507" y="445" width="3" height="28" fill="#c0c0c0"/>
<rect x="515" y="445" width="3" height="33" fill="#c0c0c0"/>
<rect x="523" y="445" width="3" height="37" fill="#c0c0c0"/>
<rect x="531" y="445" width="3" height="41" fill="#c0c0c0"/>
<rect x="539" y="445" width="3" height="43" fill="#c0c0c0"/>
<rect x="547" y="445" width="3" height="43" fill="#c0c0c0"/>
<rect x="555" y="445" width="3" height="43" fill="#c0c0c0"/>
<rect x="563" y="445" width="3" height="42" fill="#c0c0c0"/>
<rect x="571" y="445" width="3" height="43" fill="#c0c0c0"/>
<rect x="579" y="445" width="3" height="41" fill="#c0c0c0"/>
<rect x="587" y="445" width="3" height="42" fill="#c0c0c0"/>
<rect x="595" y="445" width="3" height="40" fill="#c0c0c0"/>
<rect x="603" y="445" width="3" height="39" fill="#c0c0c0"/>
<rect x="611" y="445" width="3" height="37" fill="#c0c0c0"/>
<rect x="619" y="445" width="3" height="35" fill="#c0c0c0"/>
<rect x="627" y="445" width="3" height="34" fill="#c0c0c0"/>
<rect x="635" y="445" width="3" height="31" fill="#c0c0c0"/>
<rect x="643" y="445" width="3" height="30" fill="#c0c0c0"/>
<rect x="651" y="445" width="3" height="30" fill="#c0c0c0"/>
<rect x="659" y="445" width="3" height="30" fill="#c0c0c0"/>
<rect x="667" y="445" width="3" height="27" fill="#c0c0c0"/>
<rect x="675" y="445" width="3" height="27" fill="#c0c0c0"/>
<rect x="683" y="445" width="3" height="26" fill="#c0c0c0"/>
<rect x="691" y="445" width="3" height="26" fill="#c0c0c0"/>
<rect x="699" y="445" width="3" height="27" fill="#c0c0c0"/>
<rect x="707" y="445" width="3" height="27" fill="#c0c0c0"/>
<rect x="715" y="445" width="3" height="27" fill="#c0c0c0"/>
<rect x="723" y="445" width="3" height="25" fill="#c0c0c0"/>
<rect x="731" y="445" width="3" height="20" fill="#c0c0c0"/>
<rect x="739" y="445" width="3" height="15" fill="#c0c0c0"/>
<rect x="747" y="445" width="3" height="8" fill="#c0c0c0"/>
<rect x="755" y="445" width="3" height="4" fill="#c0c0c0"/>
<rect x="763" y="442" width="3" height="3" fill="#c0c0c0"/>
<rect x="771" y="439" width="3" height="6" fill="#c0c0c0"/>
<rect x="779" y="436" width="3" height="9" fill="#c0c0c0"/>
<rect x="787" y="434" width="3" height="11" fill="#c0c0c0"/>
<rect x="795" y="431" width="3" height="14" fill="#c0c0c0"/>
<rect x="803" y="430" width="3" height="15" fill="#c0c0c0"/>
<rect x="811" y="430" width="3" height="15" fill="#c0c0c0"/>
<rect x="819" y="430" width="3" height="15" fill="#c0c0c0"/>
<rect x="827" y="432" width="3" height="13" fill="#c0c0c0"/>
<rect x="835" y="436" width="3" height="9" fill="#c0c0c0"/>
<rect x="843" y="441" width="3" height="4" fill="#c0c0c0"/>
<rect x="851" y="445" width="3" height="1" fill="#c0c0c0"/>
<rect x="859" y="445" width="3" height="4" fill="#c0c0c0"/>
<rect x="867" y="445" width="3" height="5" fill="#c0c0c0"/>
<rect x="875" y="445" width="3" height="8" fill="#c0c0c0"/>
<rect x="883" y="445" width="3" height="11" fill="#c0c0c0"/>
<rect x="891" y="445" width="3" height="12" fill="#c0c0c0"/>
<rect x="899" y="445" width="3" height="13" fill="#c0c0c0"/>
<rect x="907" y="445" width="3" height="14" fill="#c0c0c0"/>
<rect x="915" y="445" width="3" height="16" fill="#c0c0c0"/>
</g>
<polyline fill="none" stroke="#ff0000" stroke-width="1" shape-rendering="crispEdges" clip-path="url(#cd)" points="4,478.6 11.9,480 25.8,482.6 47.7,482.2 65.6,477.6 89.4,471.7 111.3,463.7 129.1,457.8 151,450.2 164.9,447.8 174.8,447.8 188.8,449.8 208.6,454.8 222.5,457.8 230,458.3 238,459.3 249.9,457.8 261.8,454.8 279.7,447.8 299.5,439.9 315.4,435.9 329.3,433.9 343.3,433.9 349.2,435.3 365.1,436.3 389,436.5 408.8,435.9 420.7,433.5 432.7,431.5 446.6,431.5 458.5,433.5 471.9,436.9 485.8,441.9 499.7,448.8 511.7,455.8 523.6,462.7 539.5,471.7 553.4,477.2 567.3,482 583.2,486 595.1,486.6 607,486.2 618.9,484.6 634.8,482 650.7,479.2 666.6,476.6 682.5,474 701.9,472.7 717.8,472.3 733.7,470.1 749.6,466.7 761.5,462.1 777.4,453.8 793.3,445.8 809.2,438.9 825.1,434.5 835,433.1 847,433.1 858.9,435.9 874.8,439.5 888.7,444.8 900.6,449.4 916.1,453.4"/>
<g shape-rendering="crispEdges" clip-path="url(#cr)">
<line x1="4" y1="520.5" x2="1166" y2="520.5" stroke="#c0c0c0" stroke-width="1" stroke-dasharray="3,3"/>
<line x1="4" y1="553.5" x2="1166" y2="553.5" stroke="#c0c0c0" stroke-width="1" stroke-dasharray="3,3"/>
</g>
<polyline fill="none" stroke="#1e90ff" stroke-width="1" shape-rendering="crispEdges" stroke-linejoin="round" clip-path="url(#cr)" points="4,552.6 12.9,552.6 19.9,548.6 27.8,545.6 36.8,542.1 44.7,544 52.7,541.3 60.6,544.2 68.5,544.2 76.5,540.3 84.4,538.1 92.4,536.3 100.3,530.3 108.3,533.3 116.2,531.3 124.2,529.3 131.1,528.1 140.1,536.3 148,538.1 156,540.3 163.9,544.6 172.9,549.2 179.8,550.2 187.8,551.6 195.7,548.6 204.6,548.2 212.6,539.3 220.5,538.3 228.5,537.1 236,531.7 243.9,529.3 251.9,527.4 259.8,526.4 267.8,524.4 276.7,523.4 284.6,535.1 292.6,531.3 301.5,526.4 308.5,528.1 316.8,536.3 324.8,535.3 332.7,536.7 340.7,542.3 348.6,537.7 357.2,534.3 365.1,531.3 373.1,529.3 381,528.1 389,531.3 396.9,531.3 403.9,528.1 412.8,528.1 420.7,528.1 428.7,528.1 436.6,536.3 444.6,539.7 453.5,543.6 460.5,549.2 468.9,549.2 475.9,548.2 484.8,552.6 492.8,549.2 500.7,552.6 508.7,556.2 516.6,557.6 524.6,558.5 532.5,559.5 540.5,560.1 548.4,548.2 556.4,550 564.3,550.2 572.3,553.6 580.6,546.6 588.2,551.2 596.1,545.6 604,545.2 612,544 620.9,546.2 628.9,545.2 636.8,542.3 644.8,546.2 652.7,547.6 660.7,546.2 668.6,541.3 676.6,544.2 684.5,546.2 692.5,547.6 698,548.2 707.9,548.2 715.8,549.2 723.8,541.3 731.7,535.3 739.7,531.3 747.6,527.2 756.6,528.3 764.5,525.4 772.5,527.2 780.4,529.3 788.4,527.2 797.3,525.2 805.2,526.4 813.2,530.3 821.1,531.3 829.1,534.3 837,542.3 844,545.2 851.9,546.6 859.9,544 867.8,540.3 876.8,546.6 884.7,545.2 892.7,543.2 900.6,544 908.6,546.2 915.9,547.6"/>
<g clip-path="url(#ca)">
<text x="1172" y="60" font-size="10.2" fill="#000" textLength="32" lengthAdjust="spacingAndGlyphs">0.70690</text>
<text x="1172" y="93" font-size="10.2" fill="#000" textLength="32" lengthAdjust="spacingAndGlyphs">0.70330</text>
<text x="1172" y="126" font-size="10.2" fill="#000" textLength="32" lengthAdjust="spacingAndGlyphs">0.69970</text>
<text x="1172" y="159" font-size="10.2" fill="#000" textLength="32" lengthAdjust="spacingAndGlyphs">0.69600</text>
<text x="1172" y="192" font-size="10.2" fill="#000" textLength="32" lengthAdjust="spacingAndGlyphs">0.69240</text>
<text x="1172" y="225" font-size="10.2" fill="#000" textLength="32" lengthAdjust="spacingAndGlyphs">0.68880</text>
<text x="1172" y="258" font-size="10.2" fill="#000" textLength="32" lengthAdjust="spacingAndGlyphs">0.68510</text>
<text x="1172" y="291" font-size="10.2" fill="#000" textLength="32" lengthAdjust="spacingAndGlyphs">0.68140</text>
<text x="1172" y="324" font-size="10.2" fill="#000" textLength="32" lengthAdjust="spacingAndGlyphs">0.67780</text>
<text x="1172" y="357" font-size="10.2" fill="#000" textLength="32" lengthAdjust="spacingAndGlyphs">0.67420</text>
<text x="1172" y="390" font-size="10.2" fill="#000" textLength="32" lengthAdjust="spacingAndGlyphs">0.67050</text>
<text x="1172" y="423" font-size="10.2" fill="#000" textLength="32" lengthAdjust="spacingAndGlyphs">0.66690</text>
<text x="1170.5" y="435.5" font-size="10.2" fill="#000" textLength="37" lengthAdjust="spacingAndGlyphs">0.002592</text>
<text x="1170.5" y="449" font-size="10.2" fill="#000" textLength="17" lengthAdjust="spacingAndGlyphs">0.00</text>
<text x="1170.5" y="489" font-size="10.2" fill="#000" textLength="41" lengthAdjust="spacingAndGlyphs">-0.006021</text>
<text x="1170.5" y="505.5" font-size="10.2" fill="#000" textLength="14" lengthAdjust="spacingAndGlyphs">100</text>
<text x="1169.5" y="524" font-size="10.2" fill="#000" textLength="9.5" lengthAdjust="spacingAndGlyphs">70</text>
<text x="1169.5" y="557" font-size="10.2" fill="#000" textLength="9.5" lengthAdjust="spacingAndGlyphs">30</text>
<text x="1170.5" y="574.5" font-size="10.2" fill="#000" textLength="4.8" lengthAdjust="spacingAndGlyphs">0</text>
<rect x="1168" y="113" width="38" height="10.4" fill="#ff0000"/>
<text x="1172" y="122" font-size="10.2" fill="#fff" textLength="32" lengthAdjust="spacingAndGlyphs">0.70001</text>
<rect x="1168" y="217" width="38" height="10.4" fill="#ff0000"/>
<text x="1172" y="226" font-size="10.2" fill="#fff" textLength="32" lengthAdjust="spacingAndGlyphs">0.68852</text>
<rect x="1168" y="289" width="38" height="10.4" fill="#00ff00"/>
<text x="1172" y="298" font-size="10.2" fill="#fff" textLength="32" lengthAdjust="spacingAndGlyphs">0.68070</text>
<rect x="1168" y="355.5" width="38" height="10.4" fill="#000000"/>
<text x="1172" y="364.5" font-size="10.2" fill="#fff" textLength="32" lengthAdjust="spacingAndGlyphs">0.67334</text>
<rect x="1168" y="407" width="38" height="10.4" fill="#0000ff"/>
<text x="1172" y="416" font-size="10.2" fill="#fff" textLength="32" lengthAdjust="spacingAndGlyphs">0.66755</text>
</g>
<text x="3.4" y="591" font-size="10.2" fill="#000" textLength="54.3" lengthAdjust="spacingAndGlyphs">21 May 2019</text>
<text x="67.4" y="591" font-size="10.2" fill="#000" textLength="54.4" lengthAdjust="spacingAndGlyphs">30 May 2019</text>
<text x="131.4" y="591" font-size="10.2" fill="#000" textLength="44.3" lengthAdjust="spacingAndGlyphs">8 Jun 2019</text>
<text x="195.4" y="591" font-size="10.2" fill="#000" textLength="48.4" lengthAdjust="spacingAndGlyphs">18 Jun 2019</text>
<text x="259.4" y="591" font-size="10.2" fill="#000" textLength="49.1" lengthAdjust="spacingAndGlyphs">27 Jun 2019</text>
<text x="323.4" y="591" font-size="10.2" fill="#000" textLength="41.5" lengthAdjust="spacingAndGlyphs">6 Jul 2019</text>
<text x="387.4" y="591" font-size="10.2" fill="#000" textLength="47" lengthAdjust="spacingAndGlyphs">16 Jul 2019</text>
<text x="451.4" y="591" font-size="10.2" fill="#000" textLength="46.7" lengthAdjust="spacingAndGlyphs">25 Jul 2019</text>
<text x="515.4" y="591" font-size="10.2" fill="#000" textLength="47" lengthAdjust="spacingAndGlyphs">3 Aug 2019</text>
<text x="579.4" y="591" font-size="10.2" fill="#000" textLength="52.4" lengthAdjust="spacingAndGlyphs">13 Aug 2019</text>
<text x="643.4" y="591" font-size="10.2" fill="#000" textLength="51.9" lengthAdjust="spacingAndGlyphs">22 Aug 2019</text>
<text x="707.4" y="591" font-size="10.2" fill="#000" textLength="52.5" lengthAdjust="spacingAndGlyphs">31 Aug 2019</text>
<text x="771.4" y="591" font-size="10.2" fill="#000" textLength="51.9" lengthAdjust="spacingAndGlyphs">10 Sep 2019</text>
<text x="835.4" y="591" font-size="10.2" fill="#000" textLength="51.1" lengthAdjust="spacingAndGlyphs">19 Sep 2019</text>
<text x="899.4" y="591" font-size="10.2" fill="#000" textLength="50.5" lengthAdjust="spacingAndGlyphs">28 Sep 2019</text>
<path d="M7 36 L10.5 32 L14 36 Z" fill="#000"/>
<text x="19.5" y="37" font-size="10.2" fill="#000" textLength="65" lengthAdjust="spacingAndGlyphs">AUDUSD,Daily</text>
<text x="91" y="37" font-size="10.2" fill="#000" textLength="32" lengthAdjust="spacingAndGlyphs">0.67448</text>
<text x="127.5" y="37" font-size="10.2" fill="#000" textLength="32" lengthAdjust="spacingAndGlyphs">0.67587</text>
<text x="163.5" y="37" font-size="10.2" fill="#000" textLength="32" lengthAdjust="spacingAndGlyphs">0.67322</text>
<text x="199.5" y="37" font-size="10.2" fill="#000" textLength="32" lengthAdjust="spacingAndGlyphs">0.67334</text>
<text x="8.5" y="437" font-size="10.2" fill="#000" textLength="153" lengthAdjust="spacingAndGlyphs">MACD(12,26,9) -0.001892 -0.001041</text>
<text x="8.5" y="507" font-size="10.2" fill="#000" textLength="67" lengthAdjust="spacingAndGlyphs">RSI(14) 36.6383</text>
<text x="0.5" y="13" font-size="10.2" fill="#3c3c3c" textLength="4.8" lengthAdjust="spacingAndGlyphs">5</text>
<text x="15.5" y="13" font-size="10.2" fill="#3c3c3c" textLength="17.5" lengthAdjust="spacingAndGlyphs">M30</text>
<text x="46.5" y="13" font-size="10.2" fill="#3c3c3c" textLength="11.5" lengthAdjust="spacingAndGlyphs">H1</text>
<text x="73.5" y="13" font-size="10.2" fill="#3c3c3c" textLength="12" lengthAdjust="spacingAndGlyphs">H4</text>
<text x="102.5" y="13" font-size="10.2" fill="#3c3c3c" textLength="11.5" lengthAdjust="spacingAndGlyphs">D1</text>
<text x="130" y="13" font-size="10.2" fill="#3c3c3c" textLength="14" lengthAdjust="spacingAndGlyphs">W1</text>
<text x="157" y="13" font-size="10.2" fill="#3c3c3c" textLength="14" lengthAdjust="spacingAndGlyphs">MN</text>
<g shape-rendering="crispEdges">
<rect x="7" y="45" width="52" height="25" fill="url(#gb)"/>
<rect x="174" y="45" width="52" height="25" fill="url(#gb)"/>
<rect x="7" y="69" width="109" height="40" fill="url(#gp)"/>
<rect x="118" y="69" width="108" height="40" fill="url(#gp)"/>
<rect x="7" y="45" width="52" height="1" fill="#cc2222"/>
<rect x="7" y="45" width="1" height="24" fill="#cc2222"/>
<rect x="58" y="45" width="1" height="24" fill="#cc2222"/>
<rect x="174" y="45" width="52" height="1" fill="#cc2222"/>
<rect x="174" y="45" width="1" height="24" fill="#cc2222"/>
<rect x="225" y="45" width="1" height="24" fill="#cc2222"/>
<rect x="7.5" y="69.5" width="108" height="39" fill="none" stroke="#8a0000" stroke-opacity="0.35" stroke-width="1"/>
<rect x="118.5" y="69.5" width="107" height="39" fill="none" stroke="#8a0000" stroke-opacity="0.35" stroke-width="1"/>
<rect x="11" y="68" width="44" height="1" fill="#8c0a0a"/>
<rect x="178" y="68" width="44" height="1" fill="#8c0a0a"/>
<rect x="11" y="69" width="44" height="1" fill="#e85050"/>
<rect x="178" y="69" width="44" height="1" fill="#e85050"/>
<rect x="61" y="45" width="111" height="22" fill="#ffffff"/>
<rect x="61.5" y="45.5" width="110" height="21" fill="none" stroke="#a8a8a8" stroke-width="1"/>
<rect x="62" y="46" width="20" height="20" fill="url(#gs)"/>
<rect x="151" y="46" width="20" height="20" fill="url(#gs)"/>
<rect x="62.5" y="46.5" width="19" height="19" fill="none" stroke="#ededed" stroke-width="1"/>
<rect x="151.5" y="46.5" width="19" height="19" fill="none" stroke="#ededed" stroke-width="1"/>
<rect x="82" y="46" width="1" height="20" fill="#b0b0b0"/>
<rect x="150" y="46" width="1" height="20" fill="#b0b0b0"/>
</g>
<path d="M69 54 L74.5 54 L71.75 57.5 Z" fill="#4a62c0"/>
<path d="M158 57.5 L163.5 57.5 L160.75 54 Z" fill="#4a62c0"/>
<text x="123.5" y="60" font-size="12" fill="#000" textLength="23.5" lengthAdjust="spacingAndGlyphs">5.00</text>
<text x="19.2" y="60.6" font-size="11.3" fill="#fff" textLength="25.4" lengthAdjust="spacingAndGlyphs">SELL</text>
<text x="187.5" y="60.6" font-size="11.3" fill="#fff" textLength="23" lengthAdjust="spacingAndGlyphs">BUY</text>
<text x="26.7" y="99.7" font-size="11.3" fill="#fff" textLength="24" lengthAdjust="spacingAndGlyphs" font-weight="bold">0.67</text>
<text x="56" y="100" font-size="34" fill="#fff" stroke="url(#gp)" stroke-width="0.6" textLength="32" lengthAdjust="spacingAndGlyphs">33</text>
<text x="93.8" y="84.1" font-size="12" fill="#fff" font-weight="bold">4</text>
<text x="137.7" y="99.7" font-size="11.3" fill="#fff" textLength="24" lengthAdjust="spacingAndGlyphs" font-weight="bold">0.67</text>
<text x="167" y="100" font-size="34" fill="#fff" stroke="url(#gp)" stroke-width="0.6" textLength="32" lengthAdjust="spacingAndGlyphs">35</text>
<text x="204.8" y="84.1" font-size="12" fill="#fff" font-weight="bold">5</text>
<text x="17.4" y="615.6" font-size="12" fill="#6e6e6e" textLength="79.5" lengthAdjust="spacingAndGlyphs">EURUSD,Daily</text>
<text x="120.5" y="615.6" font-size="12" fill="#000" textLength="81.5" lengthAdjust="spacingAndGlyphs">AUDUSD,Daily</text>
<text x="222.5" y="615.6" font-size="12" fill="#6e6e6e" textLength="80" lengthAdjust="spacingAndGlyphs">USDCHF,Daily</text>
<text x="324" y="615.6" font-size="12" fill="#6e6e6e" textLength="81" lengthAdjust="spacingAndGlyphs">USDCAD,Daily</text>
<text x="426.5" y="615.6" font-size="12" fill="#6e6e6e" textLength="83" lengthAdjust="spacingAndGlyphs">USDCNH,Daily</text>
<text x="532" y="615.6" font-size="12" fill="#6e6e6e" textLength="69" lengthAdjust="spacingAndGlyphs">XAUUSD,H4</text>
<text x="623.3" y="615.6" font-size="12" fill="#6e6e6e" textLength="46.2" lengthAdjust="spacingAndGlyphs">DJ30,H4</text>
<text x="693" y="615.6" font-size="12" fill="#6e6e6e" textLength="59" lengthAdjust="spacingAndGlyphs">USDOil,H1</text>
<text x="775" y="615.6" font-size="12" fill="#6e6e6e" textLength="66" lengthAdjust="spacingAndGlyphs">USDCHF,H1</text>
<text x="865" y="615.6" font-size="12" fill="#6e6e6e" textLength="67" lengthAdjust="spacingAndGlyphs">GBPUSD,H1</text>
<text x="957" y="615.6" font-size="12" fill="#6e6e6e" textLength="67.5" lengthAdjust="spacingAndGlyphs">EURUSD,H1</text>
<text x="1048.5" y="615.6" font-size="12" fill="#6e6e6e" textLength="67.7" lengthAdjust="spacingAndGlyphs">GBPAUD,H1</text>
<text x="1139.5" y="615.6" font-size="12" fill="#6e6e6e" textLength="36" lengthAdjust="spacingAndGlyphs">USDJP</text>
<g shape-rendering="crispEdges">
<rect x="313" y="604" width="1" height="14" fill="#5a5a5a"/>
<rect x="417" y="604" width="1" height="14" fill="#5a5a5a"/>
<rect x="521" y="604" width="1" height="14" fill="#5a5a5a"/>
<rect x="613" y="604" width="1" height="14" fill="#5a5a5a"/>
<rect x="681" y="604" width="1" height="14" fill="#5a5a5a"/>
<rect x="765" y="604" width="1" height="14" fill="#5a5a5a"/>
<rect x="854" y="604" width="1" height="14" fill="#5a5a5a"/>
<rect x="945" y="604" width="1" height="14" fill="#5a5a5a"/>
<rect x="1037" y="604" width="1" height="14" fill="#5a5a5a"/>
<rect x="1129" y="604" width="1" height="14" fill="#5a5a5a"/>
</g>
<path d="M1184.5 606 L1184.5 613 L1181 609.5 Z" fill="#9a9a9a"/>
<path d="M1200.5 605.5 L1200.5 613.5 L1204.5 609.5 Z" fill="#000"/>
</svg>
</body></html>
